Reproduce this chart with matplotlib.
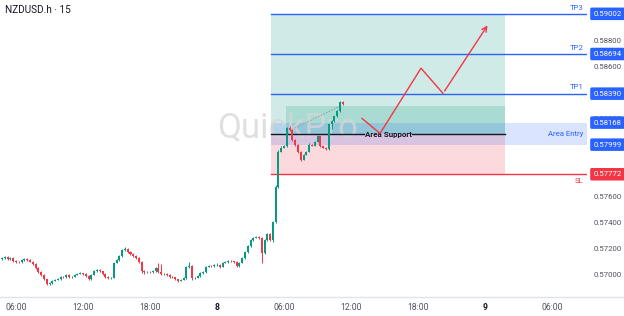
import matplotlib
matplotlib.use('Agg')
import matplotlib.pyplot as plt
import matplotlib.transforms as mtransforms
from matplotlib.lines import Line2D

plt.rcParams['font.family'] = ['Roboto', 'DejaVu Sans']

# 15 min candles, time in hours from day 7 00:00
t_start = 4.75
t_step = 0.25
open0 = 0.57125
closes = [0.57131, 0.57138, 0.57123, 0.57131, 0.57108, 0.57100, 0.57098, 0.57115, 0.57123, 0.57115,
          0.57100, 0.57085, 0.57054, 0.57023, 0.57000, 0.56969, 0.56931, 0.56938, 0.56954, 0.56962,
          0.56969, 0.56985, 0.56983, 0.57000, 0.56985, 0.56988, 0.57000, 0.57008, 0.57015, 0.57008,
          0.56992, 0.56969, 0.57000, 0.57031, 0.57038, 0.57031, 0.57008, 0.56985, 0.56977, 0.56979,
          0.57092, 0.57115, 0.57146, 0.57192, 0.57200, 0.57177, 0.57162, 0.57146, 0.57131, 0.57100,
          0.57031, 0.57023, 0.57025, 0.57023, 0.57031, 0.57054, 0.57023, 0.57008, 0.57010, 0.57000,
          0.56985, 0.56983, 0.56969, 0.56954, 0.56962, 0.56977, 0.57062, 0.57069, 0.56977, 0.56979,
          0.56992, 0.57015, 0.57023, 0.57062, 0.57069, 0.57067, 0.57077, 0.57079, 0.57062, 0.57092,
          0.57100, 0.57108, 0.57106, 0.57100, 0.57069, 0.57092, 0.57131, 0.57177, 0.57223, 0.57269,
          0.57285, 0.57292, 0.57285, 0.57169, 0.57269, 0.57315, 0.57269, 0.57408, 0.57677, 0.57946,
          0.57977, 0.57985, 0.58123, 0.58115, 0.58038, 0.58000, 0.57946, 0.57885, 0.57923, 0.57946,
          0.58000, 0.57992, 0.58023, 0.58062, 0.57985, 0.57977, 0.57962, 0.58154, 0.58177, 0.58215,
          0.58254, 0.58323, 0.58308]
highs = [0.57140, 0.57146, 0.57142, 0.57136, 0.57134, 0.57112, 0.57106, 0.57120, 0.57128, 0.57127,
         0.57119, 0.57104, 0.57088, 0.57058, 0.57027, 0.57004, 0.56972, 0.56944, 0.56958, 0.56966,
         0.56975, 0.56990, 0.56992, 0.57006, 0.57004, 0.56994, 0.57006, 0.57016, 0.57022, 0.57018,
         0.57012, 0.56996, 0.57005, 0.57038, 0.57044, 0.57042, 0.57034, 0.57012, 0.56990, 0.56985,
         0.57098, 0.57122, 0.57152, 0.57200, 0.57215, 0.57205, 0.57182, 0.57166, 0.57150, 0.57135,
         0.57104, 0.57040, 0.57030, 0.57030, 0.57037, 0.57062, 0.57092, 0.57085, 0.57018, 0.57015,
         0.57004, 0.56992, 0.56988, 0.56972, 0.56968, 0.56984, 0.57070, 0.57100, 0.57074, 0.56986,
         0.56998, 0.57020, 0.57030, 0.57068, 0.57076, 0.57075, 0.57084, 0.57088, 0.57082, 0.57098,
         0.57106, 0.57114, 0.57113, 0.57110, 0.57104, 0.57098, 0.57138, 0.57184, 0.57232, 0.57276,
         0.57292, 0.57300, 0.57298, 0.57290, 0.57276, 0.57322, 0.57320, 0.57415, 0.57690, 0.57960,
         0.57990, 0.57995, 0.58135, 0.58140, 0.58120, 0.58045, 0.58006, 0.57952, 0.57930, 0.57952,
         0.58008, 0.58006, 0.58030, 0.58070, 0.58066, 0.57992, 0.57982, 0.58162, 0.58190, 0.58222,
         0.58262, 0.58335, 0.58330]
lows = [0.57118, 0.57125, 0.57116, 0.57117, 0.57102, 0.57094, 0.57092, 0.57094, 0.57110, 0.57110,
        0.57096, 0.57080, 0.57048, 0.57016, 0.56992, 0.56960, 0.56920, 0.56926, 0.56934, 0.56950,
        0.56958, 0.56965, 0.56978, 0.56979, 0.56980, 0.56980, 0.56984, 0.56996, 0.57004, 0.57003,
        0.56986, 0.56962, 0.56965, 0.56996, 0.57026, 0.57026, 0.57002, 0.56978, 0.56970, 0.56972,
        0.56975, 0.57088, 0.57110, 0.57140, 0.57186, 0.57172, 0.57156, 0.57140, 0.57125, 0.57094,
        0.57015, 0.57010, 0.57016, 0.57018, 0.57018, 0.57026, 0.57018, 0.57002, 0.57002, 0.56994,
        0.56978, 0.56976, 0.56962, 0.56946, 0.56950, 0.56958, 0.56972, 0.57055, 0.56962, 0.56968,
        0.56974, 0.56988, 0.57010, 0.57018, 0.57058, 0.57060, 0.57062, 0.57072, 0.57056, 0.57058,
        0.57088, 0.57095, 0.57100, 0.57094, 0.57062, 0.57064, 0.57088, 0.57126, 0.57172, 0.57218,
        0.57262, 0.57280, 0.57278, 0.57095, 0.57160, 0.57262, 0.57262, 0.57250, 0.57400, 0.57670,
        0.57940, 0.57970, 0.57980, 0.58105, 0.58030, 0.57992, 0.57938, 0.57870, 0.57878, 0.57918,
        0.57940, 0.57985, 0.57986, 0.58018, 0.57978, 0.57970, 0.57955, 0.57955, 0.58120, 0.58170,
        0.58208, 0.58248, 0.58300]

# trade levels
tp_names = ['TP3', 'TP2', 'TP1']
tp_prices = [0.59002, 0.58694, 0.58390]
entry_hi = 0.58168
entry_lo = 0.57999
support = 0.58077
sl_price = 0.57772
box_top = 0.58292

# position tool / drawing extents (hours)
pos_left, pos_right = 28.83, 49.78
box_left = 30.17

# projected path
path_t = [36.98, 38.59, 42.26, 44.23, 48.35]
path_p = [0.58200, 0.58085, 0.58585, 0.58392, 0.58931]

tick_pos = [6, 12, 18, 24, 30, 36, 42, 48, 54]
tick_lbl = ['06:00', '12:00', '18:00', '8', '06:00', '12:00', '18:00', '9', '06:00']

up_c = '#089981'
dn_c = '#f23645'
blue = '#2962ff'
fs = 5.6

fig = plt.figure(figsize=(6.24, 3.16), dpi=100)
ax = fig.add_axes([0, 19 / 316, 587 / 624, 297 / 316])
ax.set_xlim(4.567, 57.12)
ax.set_ylim(0.56831, 0.59108)

# position tool
ax.fill_between([pos_left, pos_right], support, tp_prices[0], color=up_c, alpha=0.19, lw=0, zorder=1)
ax.fill_between([pos_left, pos_right], sl_price, support, color=dn_c, alpha=0.19, lw=0, zorder=1)
ax.fill_between([box_left, pos_right], support, box_top, color=up_c, alpha=0.19, lw=0, zorder=1)
ax.fill_between([pos_left, 57.12], entry_lo, entry_hi, color=blue, alpha=0.17, lw=0, zorder=1.2)

# watermark
ax.text(30.3, 0.58131, 'QuickPro', fontsize=25, color='#d6d6d6', alpha=0.75,
        ha='center', va='center', zorder=1.5)

# candles
opens = [open0] + closes[:-1]
for i in range(len(closes)):
    t = t_start + i * t_step
    o, c = opens[i], closes[i]
    col = up_c if c >= o else dn_c
    ax.vlines(t, lows[i], highs[i], color=col, lw=0.7, zorder=3)
    h = abs(c - o)
    if h < 0.00003:
        h = 0.00003
    ax.bar(t, h, bottom=min(o, c), width=0.18, color=col, lw=0, zorder=3)

ax.plot([30.7, 34.9], [0.58115, 0.58290], color='#9598a1', lw=0.7, ls=(0, (1.5, 1.5)), zorder=3)

# levels
for name, p in zip(tp_names, tp_prices):
    ax.plot([pos_left, 57.12], [p, p], color=blue, lw=1, zorder=2)
    ax.text(56.8, p + 0.00025, name, color=blue, fontsize=fs, ha='right', va='bottom', zorder=4)
ax.plot([pos_left, 57.12], [sl_price, sl_price], color=dn_c, lw=1, zorder=2)
ax.text(56.8, sl_price - 0.00028, 'SL', color=dn_c, fontsize=fs, ha='right', va='top', zorder=4)
ax.text(56.8, (entry_hi + entry_lo) / 2, 'Area Entry', color=blue, fontsize=fs,
        ha='right', va='center', zorder=4)

ax.plot([pos_left, 37.15], [support, support], color='#131722', lw=1, zorder=2.5)
ax.plot([41.45, pos_right], [support, support], color='#131722', lw=1, zorder=2.5)
ax.text(39.3, support, 'Area Support', color='#131722', fontsize=5.8, fontweight='bold',
        ha='center', va='center', zorder=4)

ax.plot(path_t[:-1], path_p[:-1], color=dn_c, lw=1, zorder=4)
ax.annotate('', xy=(path_t[-1], path_p[-1]), xytext=(path_t[-2], path_p[-2]),
            arrowprops=dict(arrowstyle='->', color=dn_c, lw=1, mutation_scale=9), zorder=4)

# price boxes on the axis
trans = mtransforms.blended_transform_factory(ax.transAxes, ax.transData)
for p, col in zip(tp_prices + [entry_hi, entry_lo, sl_price], [blue] * 5 + [dn_c]):
    ax.text(1.011, p, '%.5f' % p, transform=trans, color='white', fontsize=fs,
            ha='left', va='center', clip_on=False, zorder=5,
            bbox=dict(boxstyle='round,pad=0.42,rounding_size=0.2', fc=col, ec='none'))

# axes
ax.yaxis.tick_right()
ax.set_yticks([0.570, 0.572, 0.574, 0.576, 0.578, 0.580, 0.582, 0.584, 0.586, 0.588])
ax.set_yticklabels(['%.5f' % v for v in ax.get_yticks()])
ax.tick_params(axis='y', length=0, pad=5, labelsize=fs, labelcolor='#50535e')
ax.set_xticks(tick_pos)
ax.set_xticklabels(tick_lbl)
ax.tick_params(axis='x', length=0, pad=4, labelsize=6.2, labelcolor='#50535e')
for lbl in ax.get_xticklabels():
    if lbl.get_text() in ('8', '9'):
        lbl.set_fontweight('bold')
        lbl.set_color('#131722')
for s in ax.spines.values():
    s.set_visible(False)
fig.add_artist(Line2D([0, 1], [19 / 316, 19 / 316], transform=fig.transFigure, color='#e0e3eb', lw=1))

fig.text(5 / 624, 1 - 10 / 316, 'NZDUSD.h \u00b7 15', fontsize=7.2, color='#131722', ha='left', va='center')

fig.savefig('out.png', dpi=100)
